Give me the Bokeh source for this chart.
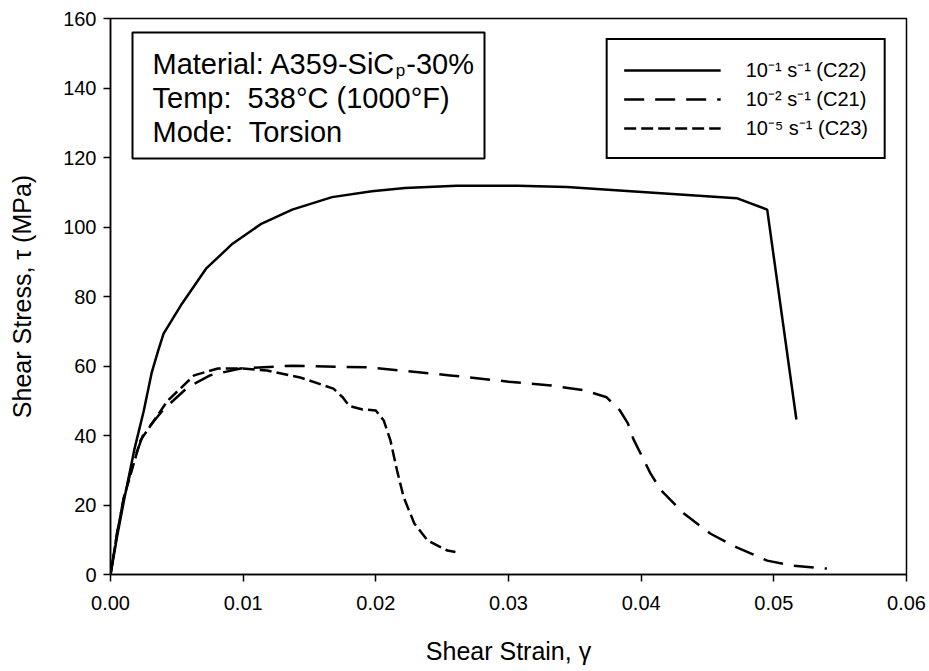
from bokeh.plotting import figure
from bokeh.models import (FixedTicker, PrintfTickFormatter, BoxAnnotation, Label,
                          Legend, LegendItem, Range1d)
from bokeh.embed import file_html
from bokeh.resources import INLINE

# ---- data ----
strain_c22 = [0, 0.0005, 0.001, 0.0018, 0.0025, 0.0031, 0.0036, 0.004, 0.0054, 0.0072,
              0.0092, 0.0114, 0.0137, 0.0167, 0.0197, 0.0222, 0.0261, 0.0307, 0.0344,
              0.0395, 0.0472, 0.0495, 0.0517]
stress_c22 = [0, 11, 21, 36, 47, 58, 64.5, 69.3, 78, 88,
              95.2, 101, 105, 108.6, 110.3, 111.2, 111.9, 111.9, 111.5,
              110.2, 108.3, 105, 44.6]

strain_c21 = [0, 0.0005, 0.001, 0.00175, 0.0025, 0.004, 0.0058, 0.0075, 0.0098, 0.0138,
              0.0194, 0.0256, 0.0300, 0.0332, 0.0357, 0.0374, 0.0384, 0.0390, 0.0394,
              0.0401, 0.0407, 0.0415, 0.0432, 0.0452, 0.0472, 0.0495, 0.0513, 0.0540]
stress_c21 = [0, 12, 22, 32.8, 40.6, 47.5, 53.8, 57.3, 59.3, 60.1,
              59.6, 57.3, 55.5, 54.4, 53.0, 51.0, 47.2, 43.5, 39.1,
              33.7, 29.1, 24.2, 17.6, 11.8, 7.8, 4.0, 2.6, 1.7]

strain_c23 = [0, 0.0005, 0.001, 0.00226, 0.0043, 0.0063, 0.0081, 0.0098, 0.0118, 0.0143,
              0.0168, 0.0175, 0.0180, 0.0190, 0.0200, 0.0206, 0.0211, 0.0216, 0.0221,
              0.0229, 0.0239, 0.0254, 0.0260]
stress_c23 = [0, 12, 22, 38.6, 50, 57.3, 59.3, 59.3, 58.7, 56.7,
              53.5, 51.0, 48.5, 47.5, 47.2, 44.3, 38.6, 29.9, 22.2,
              14.7, 9.8, 6.9, 6.5]

series_labels = ["10\u207b\u00b9 s\u207b\u00b9 (C22)",
                 "10\u207b\u00b2 s\u207b\u00b9 (C21)",
                 "10\u207b\u2075 s\u207b\u00b9 (C23)"]

x_ticks = [0.00, 0.01, 0.02, 0.03, 0.04, 0.05, 0.06]
y_ticks = [0, 20, 40, 60, 80, 100, 120, 140, 160]

x_title = "Shear Strain, \u03b3"
y_title = "Shear Stress, \u03c4 (MPa)"

box_lines = ["Material: A359-SiC", "Temp:\u00a0 538\u00b0C (1000\u00b0F)", "Mode:\u00a0 Torsion"]
box_sub = "p"
box_tail = "-30%"

FONT = "Liberation Sans"

p = figure(frame_width=796, frame_height=556,
           min_border_left=110, min_border_right=20, min_border_top=18, min_border_bottom=94,
           x_range=Range1d(0, 0.06), y_range=Range1d(0, 160),
           output_backend="svg", toolbar_location=None,
           background_fill_color="white", border_fill_color="white")

p.xgrid.visible = False
p.ygrid.visible = False
p.outline_line_color = "black"
p.outline_line_width = 1.5
p.outline_line_alpha = 1.0

p.xaxis.ticker = FixedTicker(ticks=x_ticks)
p.xaxis.formatter = PrintfTickFormatter(format="%.2f")
p.yaxis.ticker = FixedTicker(ticks=y_ticks)
p.yaxis.formatter = PrintfTickFormatter(format="%d")
p.xaxis.axis_label = x_title
p.yaxis.axis_label = y_title

for ax in (p.xaxis[0], p.yaxis[0]):
    ax.axis_line_color = "black"
    ax.axis_line_width = 1.5
    ax.major_tick_line_color = "black"
    ax.major_tick_line_width = 1.5
    ax.major_tick_out = 7
    ax.major_tick_in = 0
    ax.minor_tick_out = 0
    ax.minor_tick_in = 0
    ax.major_label_text_font = FONT
    ax.major_label_text_font_size = "20px"
    ax.major_label_text_color = "black"
    ax.axis_label_text_font = FONT
    ax.axis_label_text_font_size = "25px"
    ax.axis_label_text_font_style = "normal"
    ax.axis_label_text_color = "black"

p.xaxis.major_label_standoff = 14
p.xaxis.axis_label_standoff = 24
p.yaxis.major_label_standoff = 7
p.yaxis.axis_label_standoff = 24

r1 = p.line(strain_c22, stress_c22, line_color="black", line_width=2.5)
r2 = p.line(strain_c21, stress_c21, line_color="black", line_width=2.5, line_dash="20 11")
r3 = p.line(strain_c23, stress_c23, line_color="black", line_width=2.5, line_dash="12 5")

legend = Legend(items=[LegendItem(label=series_labels[0], renderers=[r1]),
                       LegendItem(label=series_labels[1], renderers=[r2]),
                       LegendItem(label=series_labels[2], renderers=[r3])],
                location="top_right", margin=20, padding=16, spacing=2,
                label_standoff=25, glyph_width=97, glyph_height=24, label_height=24,
                label_text_font=FONT, label_text_font_size="20px", label_text_color="black",
                border_line_color="black", border_line_width=2, border_line_alpha=1.0,
                background_fill_color="white", background_fill_alpha=1.0)
p.add_layout(legend)

# annotation box (frame-relative screen units)
p.add_layout(BoxAnnotation(left=22, right=374, top=542, bottom=416,
                           left_units="screen", right_units="screen",
                           top_units="screen", bottom_units="screen",
                           fill_color="white", fill_alpha=1.0,
                           line_color="black", line_width=2, line_alpha=1.0))

BOX_FS = 29
SUB_FS = 17
W = {' ': 278, '%': 889, '(': 333, ')': 333, '-': 333, '.': 278, ':': 278,
     'A': 667, 'C': 722, 'F': 611, 'M': 833, 'S': 667, 'T': 611, 'a': 556, 'e': 556,
     'i': 222, 'l': 222, 'm': 833, 'p': 556, 'r': 333, 't': 278, '\u00b0': 400}
for d in "0123456789":
    W[d] = 556

def text_width(s, fs):
    return sum(W.get(c, 556) for c in s) * fs / 1000.0

tx = 42
baselines = [511, 477, 443]
for line, yb in zip(box_lines, baselines):
    p.add_layout(Label(x=tx, y=yb, x_units="screen", y_units="screen", text=line,
                       text_font=FONT, text_font_size=f"{BOX_FS}px", text_color="black",
                       text_baseline="alphabetic", text_align="left"))
w0 = text_width(box_lines[0], BOX_FS)
p.add_layout(Label(x=tx + w0, y=baselines[0] - 7, x_units="screen", y_units="screen",
                   text=box_sub, text_font=FONT, text_font_size=f"{SUB_FS}px",
                   text_color="black", text_baseline="alphabetic", text_align="left"))
p.add_layout(Label(x=tx + w0 + text_width(box_sub, SUB_FS) + 1, y=baselines[0],
                   x_units="screen", y_units="screen", text=box_tail,
                   text_font=FONT, text_font_size=f"{BOX_FS}px", text_color="black",
                   text_baseline="alphabetic", text_align="left"))

open("out.html", "w").write(file_html(p, INLINE))
